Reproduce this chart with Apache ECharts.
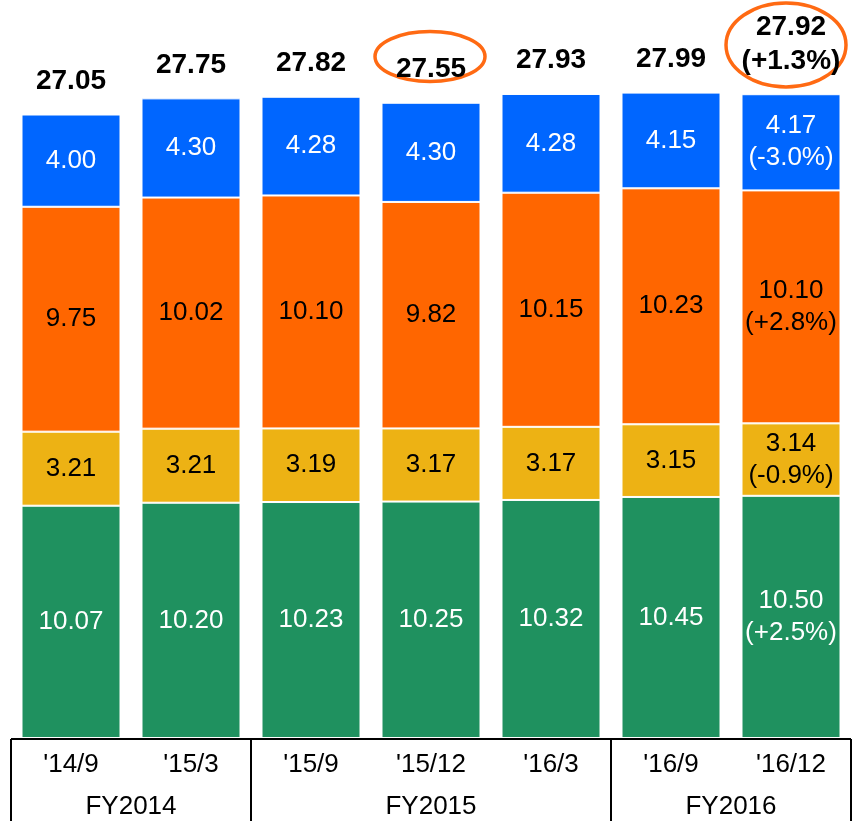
<!DOCTYPE html>
<html>
<head>
<meta charset="utf-8">
<title>Quarterly breakdown</title>
<script src="https://cdn.jsdelivr.net/npm/echarts@6/dist/echarts.min.js"></script>
<style>
  html, body { margin: 0; padding: 0; background: #fff; }
  #chart { width: 855px; height: 821px; }
</style>
</head>
<body>
<div id="chart"></div>
<script>
// Period labels along the bottom, and the fiscal years that group them
const categories = ["'14/9", "'15/3", "'15/9", "'15/12", "'16/3", "'16/9", "'16/12"];
const fiscalYears = ['FY2014', 'FY2015', 'FY2016'];
const fiscalSpans = [2, 3, 2];

// Stack segments, bottom to top
const greenValues  = [10.07, 10.20, 10.23, 10.25, 10.32, 10.45, 10.50];
const yellowValues = [3.21, 3.21, 3.19, 3.17, 3.17, 3.15, 3.14];
const orangeValues = [9.75, 10.02, 10.10, 9.82, 10.15, 10.23, 10.10];
const blueValues   = [4.00, 4.30, 4.28, 4.30, 4.28, 4.15, 4.17];
const totals       = [27.05, 27.75, 27.82, 27.55, 27.93, 27.99, 27.92];

// Year-on-year change shown under the latest period's figures
const greenChange  = [null, null, null, null, null, null, '+2.5%'];
const yellowChange = [null, null, null, null, null, null, '-0.9%'];
const orangeChange = [null, null, null, null, null, null, '+2.8%'];
const blueChange   = [null, null, null, null, null, null, '-3.0%'];
const totalChange  = [null, null, null, null, null, null, '+1.3%'];

// Periods whose totals are circled
const highlighted = [3, 6];

const FONT = '"Liberation Sans", Arial, Helvetica, sans-serif';
const chart = echarts.init(document.getElementById('chart'), null, { renderer: 'canvas' });

function segment(name, values, changes, color, textColor) {
  return {
    name: name,
    type: 'bar',
    stack: 'total',
    barWidth: 99,
    data: values,
    itemStyle: { color: color, borderColor: '#ffffff', borderWidth: 1 },
    label: {
      show: true,
      position: 'inside',
      color: textColor,
      fontFamily: FONT,
      fontSize: 26,
      lineHeight: 32,
      formatter: p => {
        const v = values[p.dataIndex].toFixed(2);
        const c = changes[p.dataIndex];
        return c ? v + '\n(' + c + ')' : v;
      }
    },
    emphasis: { disabled: true },
    animation: false
  };
}

chart.setOption({
  backgroundColor: '#ffffff',
  animation: false,
  grid: { left: 11, right: 4, top: 46, bottom: 83 },
  xAxis: {
    type: 'category',
    data: categories,
    axisLine: { show: false },
    axisTick: { show: false },
    axisLabel: {
      color: '#000',
      fontFamily: FONT,
      fontSize: 26,
      lineHeight: 26,
      margin: 14,
      interval: 0
    }
  },
  yAxis: {
    type: 'value',
    min: 0,
    max: 30,
    show: false,
    splitLine: { show: false }
  },
  series: [
    segment('green', greenValues, greenChange, '#1f915f', '#ffffff'),
    segment('yellow', yellowValues, yellowChange, '#edb214', '#000000'),
    segment('orange', orangeValues, orangeChange, '#ff6600', '#000000'),
    segment('blue', blueValues, blueChange, '#0066ff', '#ffffff'),
    {
      name: 'total',
      type: 'scatter',
      symbolSize: 0,
      data: totals,
      itemStyle: { opacity: 1 },
      label: {
        show: true,
        position: 'top',
        distance: 16,
        color: '#000000',
        opacity: 1,
        fontFamily: FONT,
        fontSize: 28,
        fontWeight: 'bold',
        lineHeight: 34,
        formatter: p => {
          const v = totals[p.dataIndex].toFixed(2);
          const c = totalChange[p.dataIndex];
          return c ? v + '\n(' + c + ')' : v;
        }
      },
      emphasis: { disabled: true },
      silent: true
    }
  ]
});

// Table frame under the bars and the circled totals
function drawOverlay() {
  const x0 = chart.convertToPixel({ xAxisIndex: 0 }, 0);
  const x1 = chart.convertToPixel({ xAxisIndex: 0 }, 1);
  const band = x1 - x0;
  const baseY = chart.convertToPixel({ yAxisIndex: 0 }, 0);
  const bottomY = 821;
  const boundary = i => x0 - band / 2 + i * band;
  const lineStyle = { stroke: '#000', lineWidth: 2 };

  const elements = [];
  elements.push({
    type: 'line', silent: true,
    shape: { x1: boundary(0), y1: baseY + 1, x2: boundary(categories.length), y2: baseY + 1 },
    style: lineStyle
  });

  let start = 0;
  const cuts = [0];
  fiscalSpans.forEach(s => { start += s; cuts.push(start); });
  cuts.forEach(c => {
    elements.push({
      type: 'line', silent: true,
      shape: { x1: boundary(c), y1: baseY + 1, x2: boundary(c), y2: bottomY },
      style: lineStyle
    });
  });
  fiscalYears.forEach((fy, i) => {
    const cx = (boundary(cuts[i]) + boundary(cuts[i + 1])) / 2;
    elements.push({
      type: 'text', silent: true,
      x: cx, y: baseY + 69,
      style: {
        text: fy, fill: '#000',
        font: '26px ' + FONT,
        align: 'center', verticalAlign: 'middle'
      }
    });
  });

  highlighted.forEach(i => {
    const cx = chart.convertToPixel({ xAxisIndex: 0 }, i);
    const topY = chart.convertToPixel({ yAxisIndex: 0 }, totals[i]);
    const twoLine = !!totalChange[i];
    elements.push({
      type: 'ellipse', silent: true,
      shape: twoLine
        ? { cx: cx - 5, cy: topY - 49, rx: 60, ry: 42 }
        : { cx: cx - 1, cy: topY - 46, rx: 55, ry: 25 },
      style: { fill: 'none', stroke: '#ff6a13', lineWidth: 3.5 }
    });
  });

  chart.setOption({ graphic: { elements: elements } });
}
drawOverlay();
</script>
</body>
</html>
